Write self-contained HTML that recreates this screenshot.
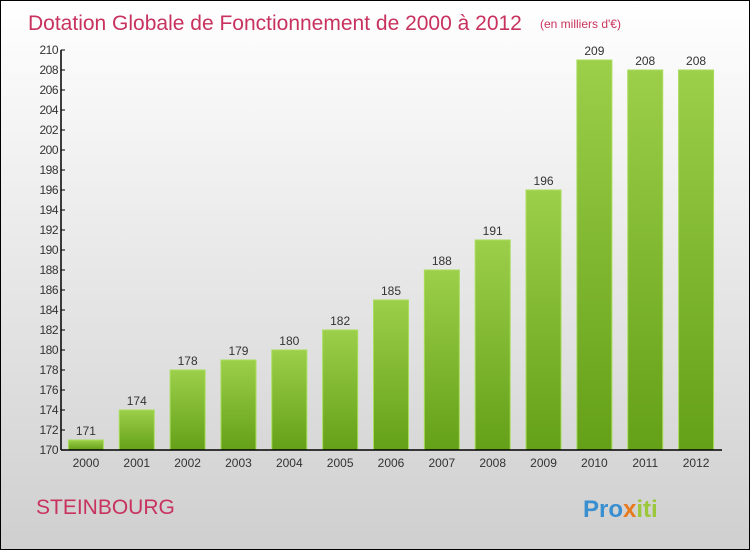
<!DOCTYPE html>
<html><head><meta charset="utf-8"><style>
body{margin:0}
#c{position:relative;width:748px;height:548px;border:1px solid #000;background:linear-gradient(#ffffff,#cfcfcf);font-family:"Liberation Sans",sans-serif;overflow:hidden}
</style></head><body>
<div id="c">
<svg id="s" width="748" height="548" xmlns="http://www.w3.org/2000/svg">
<defs><linearGradient id="g" x1="0" y1="0" x2="0" y2="1"><stop offset="0" stop-color="#9ccf4a"/><stop offset="1" stop-color="#64a018"/></linearGradient></defs>
<text x="27" y="29" font-size="21" fill="#c8325e">Dotation Globale de Fonctionnement de 2000 à 2012</text>
<text x="539" y="27" font-size="12" fill="#c8325e">(en milliers d'€)</text>
<text x="35" y="513" font-size="21" fill="#c8325e">STEINBOURG</text>
<text x="582" y="516" font-size="24" font-weight="bold"><tspan fill="#3a8fd0">Pro</tspan><tspan fill="#e87a1e">x</tspan><tspan fill="#9bc83a">iti</tspan></text>
<g id="plot"></g>
</svg>
</div>
<script>
const years=["2000","2001","2002","2003","2004","2005","2006","2007","2008","2009","2010","2011","2012"];
const values=[171,174,178,179,180,182,185,188,191,196,209,208,208];
const yTicks=[170,172,174,176,178,180,182,184,186,188,190,192,194,196,198,200,202,204,206,208,210];
const NS="http://www.w3.org/2000/svg";
const g=document.getElementById('plot');
const x0=60,x1=721,yb=449,yt=49,vmin=170,vmax=210;
const y=v=>yb-(v-vmin)/(vmax-vmin)*(yb-yt);
const step=(x1-x0-0)/years.length;
const xc=i=>x0+step*(i+0.5)-0.5;
function el(t,a){const e=document.createElementNS(NS,t);for(const k in a)e.setAttribute(k,a[k]);g.appendChild(e);return e;}
values.forEach((v,i)=>{
  const bw=35,h=yb-y(v);
  const r=el('rect',{x:xc(i)-bw/2,y:y(v),width:bw,height:h,fill:'url(#g)',stroke:'#a8dc5c','stroke-width':1});
  
  
  const t=el('text',{x:xc(i),y:y(v)-5,'font-size':12,fill:'#333','text-anchor':'middle'});
  t.textContent=v;
  
  
  const xl=el('text',{x:xc(i),y:yb+17,'font-size':12,fill:'#333','text-anchor':'middle'});
  xl.textContent=years[i];
  
  
});
yTicks.forEach(v=>{
  const tk=el('line',{x1:x0,x2:x0+4,y1:y(v),y2:y(v),stroke:'#000'});
  
  
  const t=el('text',{x:x0-3,y:y(v)+4,'font-size':12,fill:'#333','text-anchor':'end','letter-spacing':'-0.5'});
  t.textContent=v;
  
  
});
const ya=el('line',{x1:x0,x2:x0,y1:yt,y2:yb,stroke:'#000','stroke-width':1.5});


const xa=el('line',{x1:x0,x2:x1,y1:yb,y2:yb,stroke:'#000','stroke-width':1.5});


</script>
</body></html>
